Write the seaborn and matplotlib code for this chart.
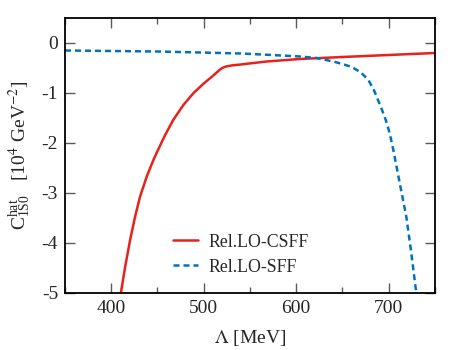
"""C_1S0 hat vs cutoff Lambda, two LO schemes."""

import matplotlib
matplotlib.use("Agg")
import matplotlib.pyplot as plt
import seaborn as sns
import pandas as pd
from matplotlib.ticker import MultipleLocator

# Rel.LO-CSFF (solid red)
csff_lam = [410.4, 415, 420.4, 425.8, 431.2, 438.4, 445.6, 449, 458, 467,
            478, 489, 500, 510, 517, 520, 524, 530, 540, 568, 604, 650, 700,
            750]
csff_c = [-5.0, -4.48, -3.94, -3.47, -3.07, -2.67, -2.34, -2.2, -1.85, -1.54,
          -1.24, -1.0, -0.81, -0.655, -0.54, -0.5, -0.47, -0.45, -0.43, -0.37,
          -0.32, -0.28, -0.24, -0.2]

# Rel.LO-SFF (dashed blue)
sff_lam = [350, 400, 450, 496, 540, 568, 604, 622, 640, 650, 660, 670, 678,
           684, 688, 692, 697, 701, 705, 712, 719, 724, 729, 730]
sff_c = [-0.15, -0.16, -0.17, -0.19, -0.21, -0.235, -0.27, -0.3, -0.37,
         -0.42, -0.48, -0.59, -0.74, -0.94, -1.12, -1.3, -1.55, -1.8, -2.14,
         -2.81, -3.47, -4.14, -4.88, -5.0]

sns.set_theme(style="ticks")
plt.rcParams["font.family"] = ["Liberation Serif", "DejaVu Serif"]
plt.rcParams["mathtext.fontset"] = "stix"
plt.rcParams["axes.unicode_minus"] = False

csff = pd.DataFrame({"lam": csff_lam, "c": csff_c})
sff = pd.DataFrame({"lam": sff_lam, "c": sff_c})

fig = plt.figure(figsize=(4.63, 3.5), dpi=100)
ax = fig.add_axes([0.1404, 0.1629, 0.799, 0.7857])

sns.lineplot(data=csff, x="lam", y="c", ax=ax, color="#e8211b", linewidth=1.8,
             label="Rel.LO-CSFF")
sns.lineplot(data=sff, x="lam", y="c", ax=ax, color="#0072bd", linewidth=1.8,
             label="Rel.LO-SFF")
ax.lines[1].set_dashes([2.4, 1.6])

ax.set_xlim(350, 750)
ax.set_ylim(-5, 0.5)
ax.xaxis.set_major_locator(MultipleLocator(100))
ax.xaxis.set_minor_locator(MultipleLocator(50))
ax.yaxis.set_major_locator(MultipleLocator(1))
ax.tick_params(which="both", direction="in", top=True, right=True,
               labelsize=14, color="0.35")
ax.tick_params(which="major", length=7, width=1, pad=5)
ax.tick_params(which="minor", length=4, width=1)
for s in ax.spines.values():
    s.set_linewidth(1.3)
    s.set_color("black")

ax.set_xlabel(r"$\Lambda$ [MeV]", fontsize=14, labelpad=8)
ax.set_ylabel(r"$\mathregular{C^{hat}_{1S0}}$   [10$^4$ GeV$^{-2}$]",
              fontsize=14, labelpad=6)

leg = ax.legend(loc="lower left", bbox_to_anchor=(0.25, 0.005), frameon=False,
                fontsize=12.8, handlelength=1.4, handletextpad=0.55,
                labelspacing=0.45)
for h in leg.get_lines():
    h.set_linewidth(1.8)

fig.savefig("out.png", dpi=100)
plt.close(fig)
